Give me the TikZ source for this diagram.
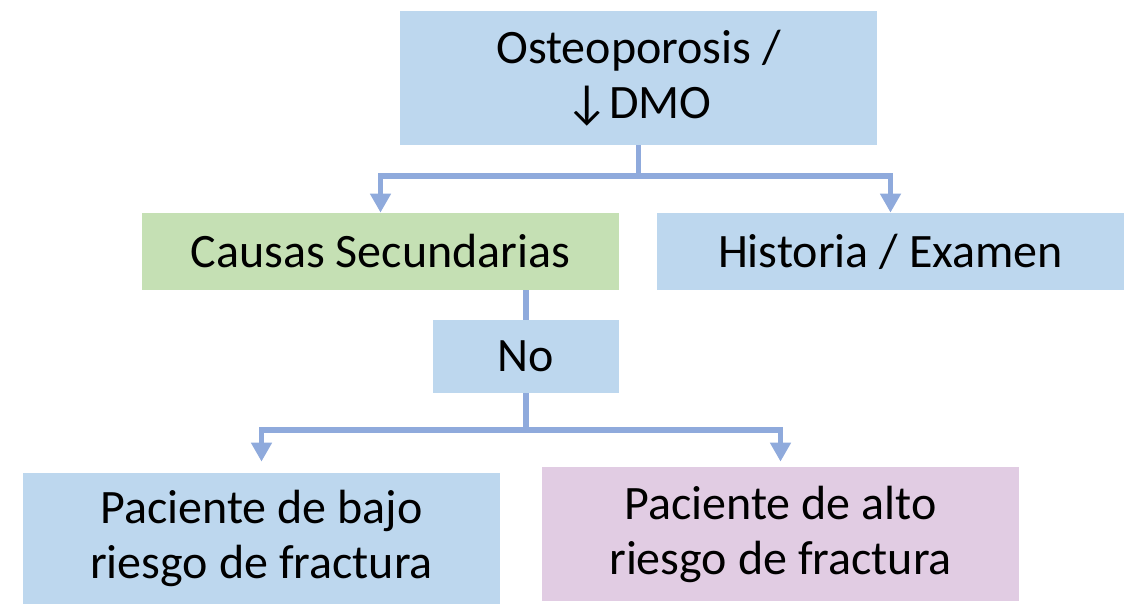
\documentclass[tikz,border=0pt]{standalone}
\usepackage{fontspec}
\setmainfont{Carlito}
\usetikzlibrary{arrows.meta, positioning, calc}
\definecolor{colour_blue}{HTML}{BDD7EE}
\definecolor{colour_green}{HTML}{C5E0B4}
\definecolor{colour_pink}{HTML}{E1CCE3}
\definecolor{colour_line}{HTML}{8FAADC}

\begin{document}
\begin{tikzpicture}
   [
      x=0.5pt, y=-0.5pt,
      box/.style={rectangle, inner sep=0pt, align=center, text=black,
                  font=\fontsize{24}{27.5}\selectfont},
      conn/.style={line width=2.75pt, colour_line},
      tip/.style={-{Triangle[width=10pt, length=9.5pt]}}
   ]

   \useasboundingbox (0,0) rectangle (1124,604);

   % =======================================================
   % Boxes
   % =======================================================

   \node[box, fill=colour_blue, minimum width=238.5pt, minimum height=67pt]
      (osteo) at (638.5,78) {Osteoporosis /\\↓DMO};

   \node[box, fill=colour_green, minimum width=238.5pt, minimum height=38.5pt]
      (causas) at (380.5,251.5) {Causas Secundarias};
   \node[box, fill=colour_blue, minimum width=233.5pt, minimum height=38.5pt]
      (historia) at (890.5,251.5) {Historia / Examen};

   \node[box, fill=colour_blue, minimum width=93pt, minimum height=36.5pt]
      (no) at (526,356.5) {No};

   \node[box, fill=colour_blue, minimum width=238.5pt, minimum height=65.5pt]
      (bajo) at (261.5,538.5) {Paciente de bajo\\riesgo de fractura};
   \node[box, fill=colour_pink, minimum width=238.5pt, minimum height=67pt]
      (alto) at (780.5,534) {Paciente de alto\\riesgo de fractura};

   % =======================================================
   % Connectors
   % =======================================================

   % Split points
   \coordinate (split_top) at (638.5,176);
   \coordinate (split_no) at (526,430);

   % Osteoporosis to both boxes below
   \draw[conn, tip] (osteo.south) -- (split_top) -| (causas.north);
   \draw[conn, tip] (split_top) -| (historia.north);

   % Causas Secundarias to No
   \draw[conn] (causas.south -| no.north) -- (no.north);

   % No to both patient boxes
   \draw[conn, tip, shorten >=5.5pt] (no.south) -- (split_no) -| (bajo.north);
   \draw[conn, tip, shorten >=2.5pt] (split_no) -| (alto.north);

\end{tikzpicture}
\end{document}
